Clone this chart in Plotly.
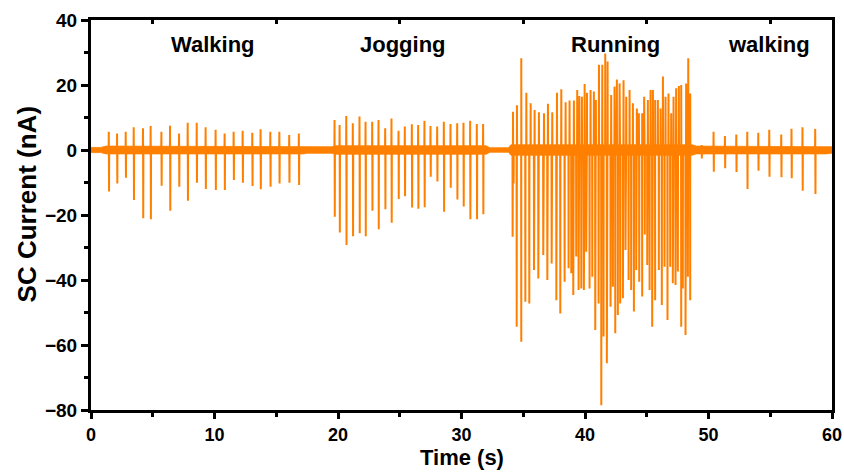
import plotly.graph_objects as go

# ---------------- data ----------------
# Walking (first segment): spike times (s), positive peaks and negative peaks (nA)
W1_T = [1.46, 2.13, 2.83, 3.48, 4.23, 4.85, 5.72, 6.42, 7.15, 7.85, 8.58, 9.30,
        10.11, 10.84, 11.57, 12.30, 13.08, 13.75, 14.54, 15.27, 16.07, 16.85]
W1_POS = [5.6, 5.1, 5.6, 7.0, 6.7, 7.4, 5.6, 7.5, 5.1, 8.4, 8.4, 7.0,
          6.2, 5.1, 5.6, 5.9, 5.3, 6.4, 5.6, 5.6, 4.6, 5.1]
W1_NEG = [-12.8, -10.3, -8.5, -15.4, -21.0, -21.3, -11.0, -18.7, -11.3, -15.6, -10.1, -12.0,
          -12.3, -12.3, -9.2, -10.1, -11.1, -12.1, -11.3, -10.3, -10.1, -10.8]

# Jogging
J_T = [19.74, 20.15, 20.69, 21.22, 21.76, 22.25, 22.79, 23.30, 23.84, 24.35, 24.92, 25.43,
       26.00, 26.51, 27.02, 27.51, 28.05, 28.59, 29.13, 29.67, 30.18, 30.72, 31.26, 31.77]
J_POS = [9.2, 7.7, 10.5, 8.2, 10.3, 8.7, 8.7, 9.2, 6.7, 9.7, 5.9, 7.2,
         7.9, 7.7, 9.0, 7.4, 7.2, 8.7, 8.0, 8.2, 8.4, 9.0, 8.0, 8.0]
J_NEG = [-20.5, -25.4, -29.2, -26.5, -25.6, -26.5, -18.7, -24.4, -18.2, -22.4, -15.1, -14.2,
         -17.7, -18.1, -17.6, -8.2, -9.7, -19.0, -11.6, -15.2, -17.4, -21.3, -21.3, -19.8]

# Running: negative peaks
R_NEG_T = [34.14, 34.22, 34.47, 34.84, 35.17, 35.49, 35.87, 36.22, 36.62, 36.95,
           37.30, 37.68, 38.00, 38.35, 38.67, 38.89, 39.05, 39.29, 39.48, 39.70,
           39.91, 40.10, 40.37, 40.59, 40.83, 41.10, 41.32, 41.50, 41.77, 42.07,
           42.26, 42.45, 42.66, 42.85, 43.07, 43.28, 43.53, 43.74, 43.96, 44.15,
           44.39, 44.63, 44.84, 45.04, 45.23, 45.44, 45.68, 45.98, 46.22, 46.44,
           46.68, 46.90, 47.11, 47.33, 47.52, 47.79, 47.92, 48.14, 48.33, 48.52]
R_NEG_V = [-26.7, -10.3, -54.4, -59.0, -46.7, -47.2, -36.9, -39.5, -32.3, -40.0,
           -34.9, -46.2, -50.3, -40.5, -36.4, -37.9, -44.6, -32.8, -43.1, -42.6,
           -43.1, -31.3, -42.6, -39.0, -55.4, -47.2, -78.5, -57.4, -65.6, -48.2,
           -42.1, -56.4, -50.8, -47.2, -45.6, -30.8, -40.0, -43.1, -49.7, -36.9,
           -40.5, -45.1, -26.0, -35.4, -43.1, -54.4, -46.2, -36.9, -47.7, -35.9,
           -52.3, -35.9, -41.0, -41.5, -37.4, -54.4, -42.6, -56.9, -39.0, -46.2]
# Running: positive peaks
R_POS_T = [34.17, 34.49, 34.84, 35.25, 35.60, 35.92, 36.27, 36.68, 37.00, 37.35,
           37.73, 38.08, 38.43, 38.75, 39.10, 39.37, 39.54, 39.75, 39.97, 40.16,
           40.45, 40.72, 40.88, 41.13, 41.40, 41.64, 41.83, 42.12, 42.39, 42.58,
           42.80, 43.12, 43.34, 43.61, 43.88, 44.20, 44.36, 44.63, 44.79, 45.09,
           45.31, 45.50, 45.68, 45.90, 46.12, 46.31, 46.52, 46.76, 46.98, 47.17,
           47.38, 47.60, 47.79, 48.19, 48.36, 48.52]
R_POS_V = [11.8, 13.8, 28.2, 17.6, 14.4, 12.3, 11.6, 11.3, 14.2, 11.6,
           17.6, 18.7, 14.7, 15.2, 15.2, 18.5, 16.6, 16.4, 20.3, 17.6,
           18.5, 18.0, 15.4, 26.2, 26.2, 29.7, 27.2, 16.9, 19.5, 21.7,
           20.5, 21.5, 16.4, 18.5, 14.4, 12.8, 11.3, 11.3, 16.4, 15.4,
           18.5, 18.5, 15.4, 15.4, 12.8, 22.6, 16.4, 17.4, 11.3, 16.4,
           19.0, 19.7, 20.0, 20.5, 28.2, 17.4]

# Walking (last segment)
W2_T = [49.46, 50.43, 51.35, 52.27, 53.16, 54.05, 54.94, 55.91, 56.74, 57.63, 58.66]
W2_POS = [1.5, 5.6, 4.3, 4.8, 5.6, 5.3, 6.2, 4.8, 6.5, 7.0, 6.5]
W2_NEG = [-2.6, -6.7, -5.6, -6.8, -12.0, -6.4, -8.2, -8.4, -8.7, -12.5, -13.5]

# Baseline noise envelope (knot times, upper and lower edges, nA)
NOISE_T = [0, 0.8, 1.2, 17.2, 17.5, 19.5, 19.8, 32.0, 32.3, 33.8, 34.0, 48.7, 49.0, 59.5, 60]
NOISE_HI = [0.8, 0.8, 1.2, 1.2, 1.0, 1.0, 1.3, 1.3, 0.7, 0.7, 1.6, 1.6, 1.2, 1.2, 1.0]
NOISE_LO = [-0.8, -0.8, -1.2, -1.2, -1.0, -1.0, -1.3, -1.3, -0.7, -0.7, -1.6, -1.6, -1.2, -1.2, -1.0]

LABELS = ["Walking", "Jogging", "Running", "walking"]
LABEL_X = [9.9, 25.3, 42.5, 54.9]
LABEL_Y = [32.6, 32.6, 32.6, 32.6]

ORANGE = "#FF8000"
FONT = "Liberation Sans, Arial, sans-serif"

# ---------------- build the signal from the events ----------------
events = []
for t, p, n in zip(W1_T, W1_POS, W1_NEG):
    events += [(t - 0.02, p), (t, n)]
for t, p, n in zip(J_T, J_POS, J_NEG):
    events += [(t - 0.02, p), (t, n)]
events += list(zip(R_NEG_T, R_NEG_V)) + list(zip(R_POS_T, R_POS_V))
for t, p, n in zip(W2_T, W2_POS, W2_NEG):
    events += [(t - 0.02, p), (t, n)]
events.sort()

eps = 0.012
sx, sy = [0.0], [0.0]
for t, v in events:
    sx += [t - eps, t, t + eps]
    sy += [0.0, v, 0.0]
sx.append(60.0)
sy.append(0.0)

fig = go.Figure()
# noise band
fig.add_trace(go.Scatter(
    x=NOISE_T + NOISE_T[::-1], y=NOISE_HI + NOISE_LO[::-1],
    fill="toself", fillcolor=ORANGE, line=dict(color=ORANGE, width=0.8),
    mode="lines", hoverinfo="skip", showlegend=False))
# spikes
fig.add_trace(go.Scatter(x=sx, y=sy, mode="lines",
                         line=dict(color=ORANGE, width=2), showlegend=False))
# top axis inward ticks carrier
fig.add_trace(go.Scatter(x=[0, 60], y=[None, None], xaxis="x2", mode="lines",
                         showlegend=False, hoverinfo="skip"))

for txt, x, y in zip(LABELS, LABEL_X, LABEL_Y):
    fig.add_annotation(x=x, y=y, xref="x", yref="y", text=txt, showarrow=False,
                       font=dict(family=FONT, size=22, color="black", weight="bold"))

# y axis title
fig.add_annotation(x=-0.087, y=0.526, xref="paper", yref="paper",
                   text="SC Current (nA)", textangle=-90, showarrow=False,
                   xanchor="center", yanchor="middle",
                   font=dict(family=FONT, size=26, color="black", weight="bold"))

# x axis title
fig.add_annotation(x=0.5, y=-0.122, xref="paper", yref="paper",
                   text="Time (s)", showarrow=False,
                   xanchor="center", yanchor="middle",
                   font=dict(family=FONT, size=22, color="black", weight="bold"))

fig.update_layout(
    width=844, height=472,
    margin=dict(l=91, r=12, t=20, b=62, autoexpand=False),
    paper_bgcolor="white", plot_bgcolor="white",
    font=dict(family=FONT, color="black"),
    xaxis=dict(
        range=[0, 60], tickvals=[0, 10, 20, 30, 40, 50, 60], automargin=False,
        showline=True, linecolor="black", linewidth=3, mirror=True,
        ticks="outside", ticklen=6, tickwidth=2.5, tickcolor="black",
        minor=dict(tickvals=[5, 15, 25, 35, 45, 55], ticks="outside", ticklen=4,
                   tickwidth=2.5, tickcolor="black"),
        showgrid=False, zeroline=False,
        tickfont=dict(family=FONT, size=18, weight="bold"),
    ),
    xaxis2=dict(
        range=[0, 60], overlaying="x", side="top", showline=False, automargin=False,
        tickvals=[5, 15, 25, 35, 45, 55], ticks="inside", ticklen=4, tickwidth=2.5,
        tickcolor="black", showticklabels=False, showgrid=False, zeroline=False,
    ),
    yaxis=dict(
        range=[-80, 40], tickvals=[-80, -60, -40, -20, 0, 20, 40], automargin=False,
        showline=True, linecolor="black", linewidth=3, mirror=True,
        ticks="outside", ticklen=7, tickwidth=2.5, tickcolor="black",
        minor=dict(tickvals=[-70, -50, -30, -10, 10, 30], ticks="outside", ticklen=4,
                   tickwidth=2.5, tickcolor="black"),
        showgrid=False, zeroline=False,
        tickfont=dict(family=FONT, size=19, weight="bold"),
    ),
)

fig.write_html("out.html")
